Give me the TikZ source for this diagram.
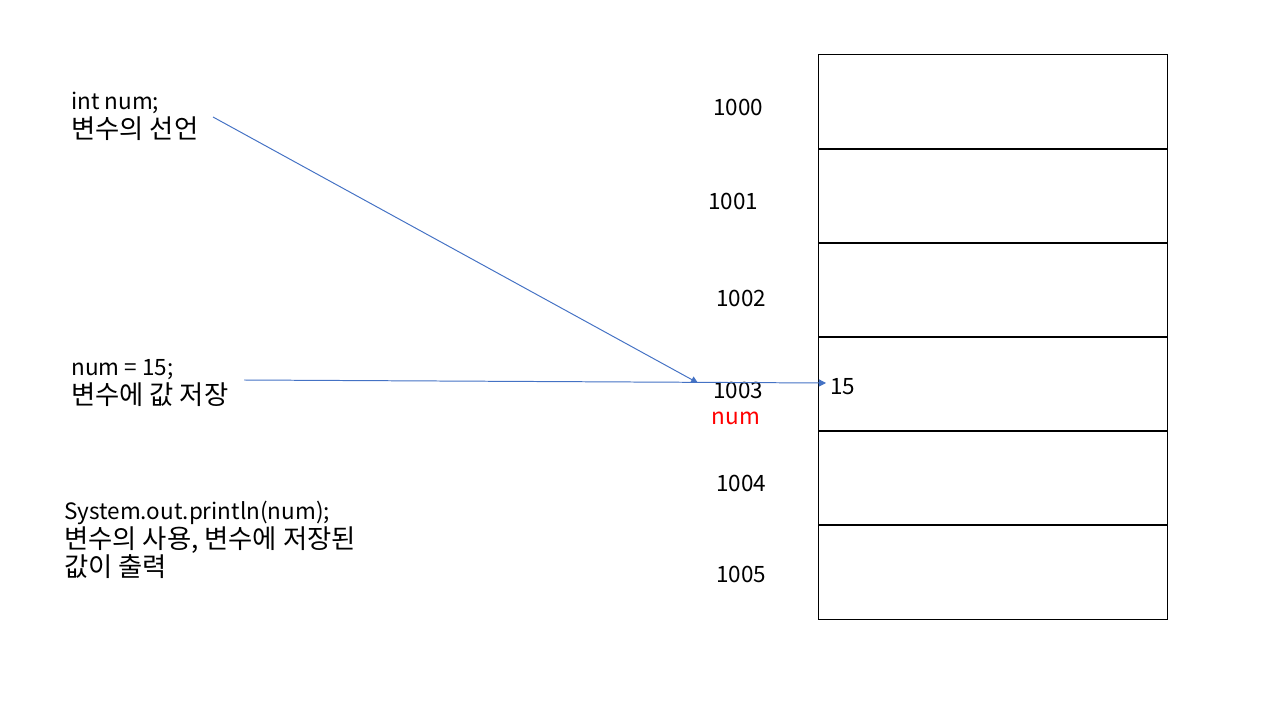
\documentclass[tikz,border=0pt]{standalone}
\usepackage{fontspec}
\setmainfont{Noto Sans CJK KR}
\newfontfamily\krfont[Scale=1.17]{Noto Sans CJK KR}
\usetikzlibrary{arrows.meta}
\definecolor{linkblue}{HTML}{4472C4}
\tikzset{>={Triangle[length=5pt,width=5pt]}}
\tikzset{
  cell/.style={draw, line width=0.7pt, minimum width=8.7cm, minimum height=2.35cm, inner sep=0pt},
  addr/.style={font=\fontsize{16}{20}\selectfont, inner sep=0pt},
  note/.style={font=\fontsize{16}{20.5}\selectfont, align=left, anchor=west, inner sep=0pt},
  link/.style={->, linkblue, line width=0.7pt}
}

\begin{document}
\begin{tikzpicture}[x=0.025cm, y=-0.025cm]

  \useasboundingbox (0,0) rectangle (1280,720);

  % memory cells
  \foreach \i in {0,...,5}
    \node[cell] (cell\i) at (993, 102+94*\i) {};

  % addresses
  \node[addr] (addr0) at (738,107) {1000};
  \node[addr] (addr1) at (733,201) {1001};
  \node[addr] (addr2) at (741,298) {1002};
  \node[addr] (addr3) at (738,390) {1003};
  \node[addr, red] (name3) at (736,418) {num};
  \node[addr] (addr4) at (741,483) {1004};
  \node[addr] (addr5) at (741,574) {1005};

  \node[addr, anchor=west] (val3) at (830,387) {15};

  % code and explanations
  \node[note] (decl) at (71,116) {int num;\\{\krfont 변수의 선언}};
  \node[note] (assign) at (71,383) {num\ =\ 15;\\{\krfont 변수에 값 저장}};
  \node[note] (print) at (64,540) {System.out.println(num);\\{\krfont 변수의 사용, 변수에 저장된}\\{\krfont 값이 출력}};

  \coordinate (decl_out) at (213,117);
  \coordinate (assign_out) at (244,380);
  \coordinate (decl_in) at (698,383);
  \coordinate (val_in) at (826,383);

  \draw[link] (decl_out) -- (decl_in);
  \draw[link] (assign_out) -- (val_in);

\end{tikzpicture}
\end{document}
